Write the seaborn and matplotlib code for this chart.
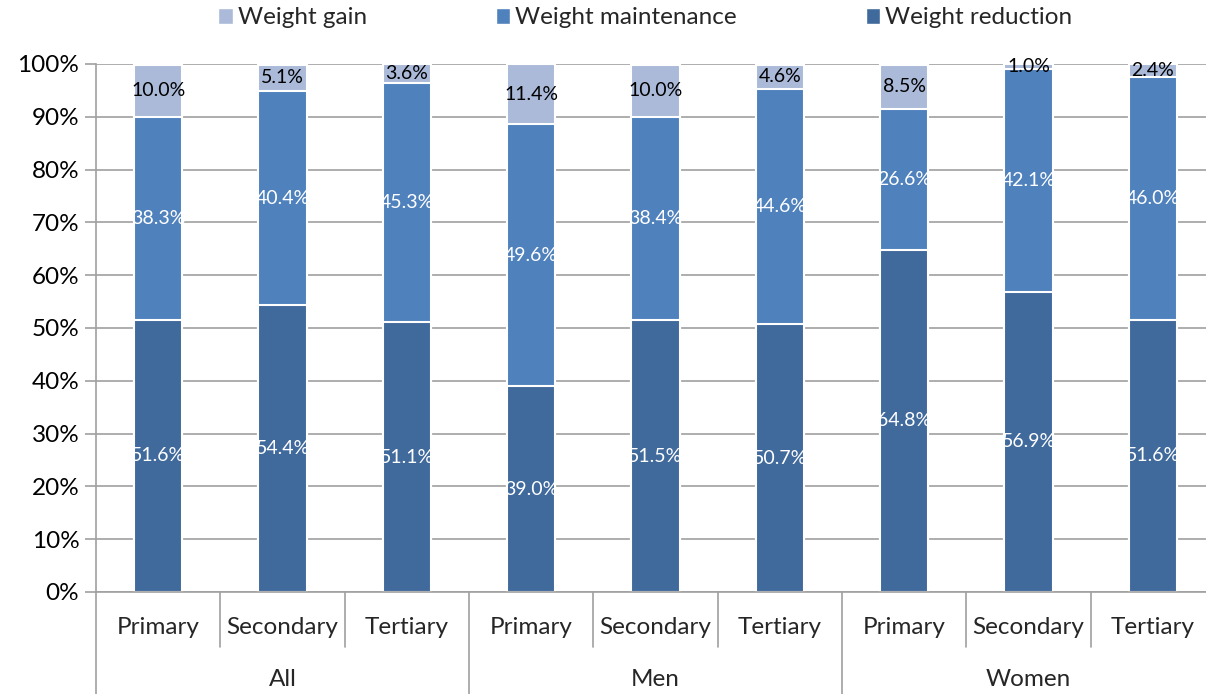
import numpy as np
import pandas as pd
import matplotlib.pyplot as plt
import matplotlib.transforms as mtransforms
from matplotlib.patches import Patch
import seaborn as sns

# chart values (percent)
groups = ['All', 'Men', 'Women']
levels = ['Primary', 'Secondary', 'Tertiary']
gain = [10.0, 5.1, 3.6, 11.4, 10.0, 4.6, 8.5, 1.0, 2.4]
maintenance = [38.3, 40.4, 45.3, 49.6, 38.4, 44.6, 26.6, 42.1, 46.0]
reduction = [51.6, 54.4, 51.1, 39.0, 51.5, 50.7, 64.8, 56.9, 51.6]

c_gain = '#AABAD8'
c_maint = '#4F81BD'
c_red = '#40699C'

sns.set_theme(style='white')
plt.rcParams['font.family'] = ['Lato', 'DejaVu Sans']

df = pd.DataFrame({
    'pos': [str(i) for i in range(9)],
    'gain': gain,
    'maintenance': maintenance,
    'reduction': reduction,
})
df['top_maint'] = df['reduction'] + df['maintenance']
df['top_gain'] = df['top_maint'] + df['gain']

fig = plt.figure(figsize=(12.06, 6.94), dpi=100)
ax = fig.add_axes([96 / 1206, 1 - 592 / 694, (1215 - 96) / 1206, (592 - 64) / 694])

# stacked bars drawn as cumulative layers, tallest first
for col, color in [('top_gain', c_gain), ('top_maint', c_maint), ('reduction', c_red)]:
    sns.barplot(data=df, x='pos', y=col, color=color, width=0.39, ax=ax,
                edgecolor='white', linewidth=1.5, saturation=1, zorder=3)

# data labels
for i in range(9):
    r, m, g = reduction[i], maintenance[i], gain[i]
    ax.text(i, r / 2, f'{r:.1f}%', ha='center', va='center', color='white', fontsize=14, zorder=5)
    ax.text(i, r + m / 2, f'{m:.1f}%', ha='center', va='center', color='white', fontsize=14, zorder=5)
    ax.text(i, r + m + g / 2, f'{g:.1f}%', ha='center', va='center', color='black', fontsize=14, zorder=5)

ax.set_xlim(-0.5, 8.5)
ax.set_ylim(0, 100)
ax.set_yticks(np.arange(0, 101, 10))
ax.set_yticklabels([f'{v}%' for v in range(0, 101, 10)], fontsize=17.5, color='black')
ax.yaxis.grid(True, color='#A0A0A0', linewidth=1.2, zorder=0)
ax.tick_params(axis='y', length=8, color='#A0A0A0', width=1.2, pad=4, left=True)
ax.set_xlabel('')
ax.set_ylabel('')
for s in ['top', 'right', 'bottom']:
    ax.spines[s].set_visible(False)
ax.spines['left'].set_color('#A0A0A0')
ax.spines['left'].set_linewidth(1.2)

# hierarchical category axis
ax.set_xticks([])
trans = mtransforms.blended_transform_factory(ax.transData, ax.transAxes)
px = 1 / (592 - 64)
for i in range(9):
    ax.text(i, -36 * px, levels[i % 3], transform=trans, ha='center', va='center', fontsize=17.5)
for j, gname in enumerate(groups):
    ax.text(3 * j + 1, -87 * px, gname, transform=trans, ha='center', va='center', fontsize=17.5)
ax.plot([-0.5, 8.5], [0, 0], transform=trans, color='#A0A0A0', lw=1.2, clip_on=False, zorder=4)
for b in np.arange(-0.5, 9, 1):
    depth = -104 * px if (b + 0.5) % 3 == 0 else -55 * px
    ax.plot([b, b], [0, depth], transform=trans, color='#A0A0A0', lw=1.2, clip_on=False)

handles = [Patch(facecolor=c_gain, label='Weight gain'),
           Patch(facecolor=c_maint, label='Weight maintenance'),
           Patch(facecolor=c_red, label='Weight reduction')]
fig.legend(handles=handles, loc='center', bbox_to_anchor=(0.535, 1 - 18 / 694), ncol=3,
           frameon=False, fontsize=17.5, handlelength=0.6, handleheight=0.6,
           handletextpad=0.2, columnspacing=5.3)

fig.savefig('out.png', dpi=100)
